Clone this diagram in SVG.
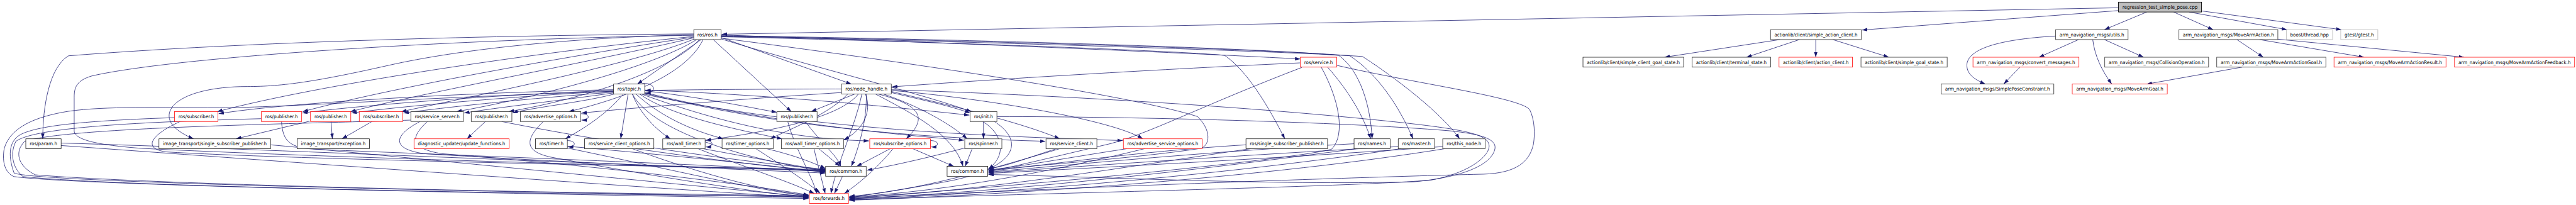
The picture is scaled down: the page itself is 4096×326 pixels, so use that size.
<svg xmlns="http://www.w3.org/2000/svg" width="4096" height="326" viewBox="0 0 4096 326">
<defs>
<style>
.node rect{fill:#fff;stroke:#404040;stroke-width:1.6}
.node.k rect{stroke:#000;stroke-width:1.3}
.node.r rect{stroke:#ff0000;stroke-width:1.4}
.node.g rect{stroke:#bfbfbf;stroke-width:1.6}
.node.root rect{fill:#bfbfbf;stroke:#000}
.node text{font-family:"DejaVu Sans","Liberation Sans",sans-serif;font-size:14px;text-anchor:middle;fill:#000}
#edges path{fill:none;stroke:#191970;stroke-width:1.4;marker-end:url(#a)}
</style>
<marker id="a" markerUnits="userSpaceOnUse" markerWidth="16" markerHeight="11" refX="15" refY="5" orient="auto"><path d="M0,0 L15,5 L0,10 z" fill="#191970"/></marker>
</defs>
<rect width="4096" height="326" fill="#fff"/>
<g transform="scale(0.56171)">
<g id="edges">
<path d="M5997,22 L2043,97"/>
<path d="M5997,30 L5271,85"/>
<path d="M6077,34 L5957,84"/>
<path d="M6153,34 L6265,84"/>
<path d="M6197,34 L6474,84"/>
<path d="M6232,31 L6628,84"/>
<path d="M5819,102 C5650,112 5575,140 5568,180 C5565,210 5590,225 5620,238"/>
<path d="M5884,112 L5772,162"/>
<path d="M5924,112 C5930,160 5950,200 5978,238"/>
<path d="M5957,112 L6068,162"/>
<path d="M5718,190 L5672,238"/>
<path d="M6332,112 L6407,162"/>
<path d="M6396,112 L6692,162"/>
<path d="M6448,111 L6975,162"/>
<path d="M6347,190 L6077,238"/>
<path d="M5039,112 L4712,162"/>
<path d="M5094,112 L4944,162"/>
<path d="M5140,112 L5140,162"/>
<path d="M5188,112 L5347,162"/>
<path d="M1964,96 C1400,100 700,118 194,158 C140,190 121,300 121,393"/>
<path d="M1964,100 C1300,110 500,160 260,215 C215,228 210,250 210,275 L210,370 C210,400 300,412 400,420 C900,445 1800,470 2337,482"/>
<path d="M1964,103 C1500,150 900,240 615,316"/>
<path d="M1964,105 C1600,160 1100,250 857,316"/>
<path d="M1964,107 C1700,170 1200,262 992,316"/>
<path d="M1966,110 C1800,180 1350,270 1136,316"/>
<path d="M1972,112 C1850,190 1500,280 1292,316"/>
<path d="M1980,112 C1900,200 1650,280 1440,316"/>
<path d="M1990,112 C1950,200 1800,270 1610,316"/>
<path d="M1964,98 C1600,108 1300,140 1100,185 C900,230 800,245 700,245 C600,245 520,265 490,300 C465,330 480,365 548,393"/>
<path d="M1985,112 L1804,238"/>
<path d="M2019,112 L2240,316"/>
<path d="M2041,106 L2410,238"/>
<path d="M2041,110 C2300,190 2600,262 2750,316"/>
<path d="M2041,99 C2800,125 3400,152 3681,167"/>
<path d="M2041,101 C2800,112 3600,138 3790,157 C3850,200 3880,300 3884,393"/>
<path d="M2041,102 C2800,115 3650,142 3821,158 C3900,210 3960,300 4000,393"/>
<path d="M2041,103 C2800,118 3700,148 3857,160 C3950,220 4080,320 4132,393"/>
<path d="M2041,104 C2800,122 3400,148 3467,157 C3530,200 3590,300 3637,393"/>
<path d="M2041,108 C2600,180 3200,270 3390,330 C3430,370 3425,410 3400,420 C3200,450 2900,470 2798,482"/>
<path d="M3681,178 C3300,195 2800,225 2525,246"/>
<path d="M3758,190 C3820,260 3860,330 3880,393"/>
<path d="M3784,185 C4000,235 4300,275 4330,310 C4345,340 4345,380 4341,407 C4330,460 4290,490 4200,493 C3900,500 3000,530 2404,563"/>
<path d="M3685,191 C3400,300 3250,380 3138,408 C3000,440 2900,465 2798,486"/>
<path d="M3740,190 C3790,280 3810,380 3770,422 C3700,445 3000,520 2404,560"/>
<path d="M1737,254 C1300,262 800,292 619,322"/>
<path d="M1737,256 C1400,268 1000,300 856,320"/>
<path d="M1737,258 C1450,272 1100,305 995,320"/>
<path d="M1737,261 C1500,278 1250,305 1142,320"/>
<path d="M1737,263 C1600,283 1400,305 1314,320"/>
<path d="M1740,266 C1650,290 1500,305 1451,320"/>
<path d="M1765,266 C1720,320 1660,360 1600,393"/>
<path d="M1778,266 L1757,393"/>
<path d="M1790,266 C1810,320 1860,370 1898,393"/>
<path d="M1800,266 C1870,330 1960,370 2048,393"/>
<path d="M1810,266 C1900,330 2100,370 2214,393"/>
<path d="M1825,257 C2000,278 2100,300 2199,318"/>
<path d="M1825,255 C2200,270 2500,300 2744,326"/>
<path d="M1825,262 C2100,330 2400,370 2729,397"/>
<path d="M1825,264 C2200,360 2600,390 2959,400"/>
<path d="M1820,266 C2300,370 2800,385 3178,398"/>
<path d="M1815,266 C2100,370 2300,395 2460,399"/>
<path d="M1790,266 C1850,380 2150,460 2337,484"/>
<path d="M1737,259 C1200,275 800,305 620,305 C450,305 300,300 194,315 C100,330 30,360 12,420 C5,460 15,490 40,500 C200,522 1200,545 2289,562"/>
<path d="M1812,238 C1850,228 1868,262 1827,264"/>
<path d="M2382,252 C2200,252 1950,254 1827,256"/>
<path d="M2382,262 C2100,280 1800,305 1646,320"/>
<path d="M2420,266 L2296,316"/>
<path d="M2430,266 C2380,330 2200,370 1998,397"/>
<path d="M2400,266 C2350,320 2250,360 2180,393"/>
<path d="M2450,266 C2470,320 2440,370 2388,396"/>
<path d="M2485,266 C2620,300 2620,340 2565,393"/>
<path d="M2500,266 C2600,300 2690,350 2738,393"/>
<path d="M2523,262 C2620,285 2690,300 2746,320"/>
<path d="M2523,259 C2700,300 2900,350 3000,393"/>
<path d="M2478,266 C2580,320 2700,380 2726,471"/>
<path d="M2452,266 C2455,340 2430,420 2410,471"/>
<path d="M2440,266 C2420,360 2370,460 2352,548"/>
<path d="M2523,256 C2800,280 3150,340 3235,393"/>
<path d="M2523,254 C3000,270 3500,300 3900,340 C4150,365 4210,380 4215,410 C4220,440 4160,490 4050,510 C3800,530 3000,545 2404,566"/>
<path d="M2822,330 C3200,330 3800,345 4100,370 C4200,380 4235,395 4232,420 C4225,460 4160,500 4000,515 C3600,525 3100,500 2798,494"/>
<path d="M2784,344 L2784,393"/>
<path d="M2782,344 C2840,380 2850,440 2798,478"/>
<path d="M2815,344 C2900,400 2880,470 2700,510 C2600,530 2450,552 2404,560"/>
<path d="M494,333 C300,340 120,350 60,380 C20,400 25,450 40,490 C100,515 1200,540 2289,558"/>
<path d="M740,336 C400,345 100,360 45,400 C25,440 40,480 65,500 C300,525 1300,548 2289,556"/>
<path d="M1163,340 C800,352 200,360 70,400 C40,430 50,470 100,495 C400,520 1400,545 2289,554"/>
<path d="M510,344 C430,380 400,420 470,430 C800,450 1800,470 2337,480"/>
<path d="M797,344 C800,400 820,420 900,423 C1300,440 2000,465 2337,486"/>
<path d="M877,343 L668,393"/>
<path d="M937,344 L941,393"/>
<path d="M1053,344 L968,393"/>
<path d="M1189,344 C1120,380 1100,420 1200,435 C1600,460 2100,480 2337,490"/>
<path d="M1210,344 C1160,390 1160,420 1250,435 C1700,470 2100,520 2289,552"/>
<path d="M1374,344 L1322,393"/>
<path d="M1420,344 C1700,400 2100,460 2337,479"/>
<path d="M1538,344 C1480,400 1490,430 1560,445 C1800,490 2100,540 2289,559"/>
<path d="M1644,322 C1672,322 1672,340 1646,340"/>
<path d="M2280,344 C2320,400 2370,440 2380,471"/>
<path d="M2230,344 C2250,420 2300,500 2312,548"/>
<path d="M173,405 C700,420 1800,470 2337,484"/>
<path d="M173,412 C700,450 1800,530 2289,560"/>
<path d="M766,410 C1200,450 1900,520 2289,557"/>
<path d="M1606,414 C1900,440 2200,470 2337,488"/>
<path d="M1606,419 C1900,480 2150,540 2289,555"/>
<path d="M1606,398 C1632,398 1632,416 1608,416"/>
<path d="M1800,421 C2000,450 2200,475 2337,486"/>
<path d="M1790,421 C1950,480 2150,540 2289,553"/>
<path d="M1990,421 C2150,450 2280,475 2337,482"/>
<path d="M1976,421 C2100,470 2250,520 2305,548"/>
<path d="M1996,398 C2022,398 2022,416 1998,416"/>
<path d="M2170,421 C2250,440 2300,460 2337,477"/>
<path d="M2140,421 C2200,460 2280,510 2322,548"/>
<path d="M2318,421 L2378,471"/>
<path d="M2304,421 L2336,548"/>
<path d="M2520,421 L2425,471"/>
<path d="M2528,421 C2480,480 2430,520 2390,548"/>
<path d="M2584,421 L2700,471"/>
<path d="M2634,398 C2660,398 2660,416 2636,416"/>
<path d="M2752,421 L2732,471"/>
<path d="M2731,419 C2650,440 2550,465 2454,482"/>
<path d="M2990,421 C2900,450 2850,470 2798,478"/>
<path d="M3000,421 C2800,480 2600,540 2404,556"/>
<path d="M3190,421 C3000,450 2900,470 2798,481"/>
<path d="M3240,421 C3000,480 2700,540 2404,558"/>
<path d="M3527,410 C3200,430 2950,470 2798,484"/>
<path d="M3540,421 C3200,470 2800,540 2404,561"/>
<path d="M3833,407 C3400,430 3000,470 2798,487"/>
<path d="M3840,421 C3400,480 2900,540 2404,563"/>
<path d="M3958,415 C3500,440 3000,475 2798,489"/>
<path d="M3965,421 C3500,490 2900,545 2404,565"/>
<path d="M4084,415 C3600,450 3000,480 2798,491"/>
<path d="M4090,421 C3600,500 2900,550 2404,567"/>
<path d="M2385,499 L2362,548"/>
</g>
<g id="n_root" class="node root"><rect x="5997" y="6" width="235" height="28"/><text x="6114.5" y="25" textLength="213" lengthAdjust="spacingAndGlyphs">regression_test_simple_pose.cpp</text></g>
<g id="n_ros" class="node"><rect x="1964" y="84" width="77" height="28"/><text x="2002.5" y="103" textLength="57" lengthAdjust="spacingAndGlyphs">ros/ros.h</text></g>
<g id="n_sac" class="node"><rect x="5012" y="84" width="257" height="28"/><text x="5140.5" y="103" textLength="235" lengthAdjust="spacingAndGlyphs">actionlib/client/simple_action_client.h</text></g>
<g id="n_utils" class="node"><rect x="5819" y="84" width="205" height="28"/><text x="5921.5" y="103" textLength="183" lengthAdjust="spacingAndGlyphs">arm_navigation_msgs/utils.h</text></g>
<g id="n_mva" class="node"><rect x="6168" y="84" width="280" height="28"/><text x="6308" y="103" textLength="258" lengthAdjust="spacingAndGlyphs">arm_navigation_msgs/MoveArmAction.h</text></g>
<g id="n_boost" class="node g"><rect x="6472" y="84" width="131" height="28"/><text x="6537.5" y="103" textLength="109" lengthAdjust="spacingAndGlyphs">boost/thread.hpp</text></g>
<g id="n_gtest" class="node g"><rect x="6626" y="84" width="105" height="28"/><text x="6678.5" y="103" textLength="83" lengthAdjust="spacingAndGlyphs">gtest/gtest.h</text></g>
<g id="n_service" class="node r"><rect x="3681" y="162" width="103" height="28"/><text x="3732.5" y="181" textLength="81" lengthAdjust="spacingAndGlyphs">ros/service.h</text></g>
<g id="n_scgs" class="node k"><rect x="4481" y="162" width="285" height="28"/><text x="4623.5" y="181" textLength="263" lengthAdjust="spacingAndGlyphs">actionlib/client/simple_client_goal_state.h</text></g>
<g id="n_ts" class="node k"><rect x="4790" y="162" width="222" height="28"/><text x="4901" y="181" textLength="200" lengthAdjust="spacingAndGlyphs">actionlib/client/terminal_state.h</text></g>
<g id="n_ac" class="node r"><rect x="5036" y="162" width="208" height="28"/><text x="5140" y="181" textLength="186" lengthAdjust="spacingAndGlyphs">actionlib/client/action_client.h</text></g>
<g id="n_sgs" class="node"><rect x="5268" y="162" width="244" height="28"/><text x="5390" y="181" textLength="222" lengthAdjust="spacingAndGlyphs">actionlib/client/simple_goal_state.h</text></g>
<g id="n_conv" class="node r"><rect x="5585" y="162" width="300" height="28"/><text x="5735" y="181" textLength="278" lengthAdjust="spacingAndGlyphs">arm_navigation_msgs/convert_messages.h</text></g>
<g id="n_coll" class="node"><rect x="5958" y="162" width="294" height="28"/><text x="6105" y="181" textLength="272" lengthAdjust="spacingAndGlyphs">arm_navigation_msgs/CollisionOperation.h</text></g>
<g id="n_mvag" class="node"><rect x="6275" y="162" width="309" height="28"/><text x="6429.5" y="181" textLength="287" lengthAdjust="spacingAndGlyphs">arm_navigation_msgs/MoveArmActionGoal.h</text></g>
<g id="n_mvar" class="node r"><rect x="6607" y="162" width="317" height="28"/><text x="6765.5" y="181" textLength="295" lengthAdjust="spacingAndGlyphs">arm_navigation_msgs/MoveArmActionResult.h</text></g>
<g id="n_mvaf" class="node r"><rect x="6948" y="162" width="340" height="28"/><text x="7118" y="181" textLength="318" lengthAdjust="spacingAndGlyphs">arm_navigation_msgs/MoveArmActionFeedback.h</text></g>
<g id="n_topic" class="node k"><rect x="1737" y="238" width="88" height="28"/><text x="1781" y="257" textLength="66" lengthAdjust="spacingAndGlyphs">ros/topic.h</text></g>
<g id="n_nh" class="node k"><rect x="2382" y="238" width="141" height="28"/><text x="2452.5" y="257" textLength="119" lengthAdjust="spacingAndGlyphs">ros/node_handle.h</text></g>
<g id="n_spc" class="node k"><rect x="5495" y="238" width="319" height="28"/><text x="5654.5" y="257" textLength="297" lengthAdjust="spacingAndGlyphs">arm_navigation_msgs/SimplePoseConstraint.h</text></g>
<g id="n_mag" class="node r"><rect x="5866" y="238" width="269" height="28"/><text x="6000.5" y="257" textLength="247" lengthAdjust="spacingAndGlyphs">arm_navigation_msgs/MoveArmGoal.h</text></g>
<g id="n_sub1" class="node r"><rect x="494" y="316" width="123" height="28"/><text x="555.5" y="335" textLength="101" lengthAdjust="spacingAndGlyphs">ros/subscriber.h</text></g>
<g id="n_pub1" class="node r"><rect x="740" y="316" width="114" height="28"/><text x="797" y="335" textLength="92" lengthAdjust="spacingAndGlyphs">ros/publisher.h</text></g>
<g id="n_pub2" class="node r"><rect x="879" y="316" width="114" height="28"/><text x="936" y="335" textLength="92" lengthAdjust="spacingAndGlyphs">ros/publisher.h</text></g>
<g id="n_sub2" class="node r"><rect x="1017" y="316" width="123" height="28"/><text x="1078.5" y="335" textLength="101" lengthAdjust="spacingAndGlyphs">ros/subscriber.h</text></g>
<g id="n_ss" class="node"><rect x="1163" y="316" width="149" height="28"/><text x="1237.5" y="335" textLength="127" lengthAdjust="spacingAndGlyphs">ros/service_server.h</text></g>
<g id="n_pub3" class="node"><rect x="1334" y="316" width="115" height="28"/><text x="1391.5" y="335" textLength="93" lengthAdjust="spacingAndGlyphs">ros/publisher.h</text></g>
<g id="n_ao" class="node"><rect x="1473" y="316" width="171" height="28"/><text x="1558.5" y="335" textLength="149" lengthAdjust="spacingAndGlyphs">ros/advertise_options.h</text></g>
<g id="n_pub4" class="node"><rect x="2199" y="316" width="114" height="28"/><text x="2256" y="335" textLength="92" lengthAdjust="spacingAndGlyphs">ros/publisher.h</text></g>
<g id="n_init" class="node"><rect x="2746" y="316" width="76" height="28"/><text x="2784" y="335" textLength="54" lengthAdjust="spacingAndGlyphs">ros/init.h</text></g>
<g id="n_param" class="node k"><rect x="73" y="393" width="100" height="28"/><text x="123" y="412" textLength="78" lengthAdjust="spacingAndGlyphs">ros/param.h</text></g>
<g id="n_itssp" class="node k"><rect x="450" y="393" width="316" height="28"/><text x="608" y="412" textLength="294" lengthAdjust="spacingAndGlyphs">image_transport/single_subscriber_publisher.h</text></g>
<g id="n_itex" class="node k"><rect x="841" y="393" width="205" height="28"/><text x="943.5" y="412" textLength="183" lengthAdjust="spacingAndGlyphs">image_transport/exception.h</text></g>
<g id="n_duf" class="node r"><rect x="1172" y="393" width="269" height="28"/><text x="1306.5" y="412" textLength="247" lengthAdjust="spacingAndGlyphs">diagnostic_updater/update_functions.h</text></g>
<g id="n_timer" class="node k"><rect x="1516" y="393" width="90" height="28"/><text x="1561" y="412" textLength="68" lengthAdjust="spacingAndGlyphs">ros/timer.h</text></g>
<g id="n_sco" class="node k"><rect x="1655" y="393" width="196" height="28"/><text x="1753" y="412" textLength="174" lengthAdjust="spacingAndGlyphs">ros/service_client_options.h</text></g>
<g id="n_wt" class="node"><rect x="1876" y="393" width="120" height="28"/><text x="1936" y="412" textLength="98" lengthAdjust="spacingAndGlyphs">ros/wall_timer.h</text></g>
<g id="n_to" class="node"><rect x="2044" y="393" width="145" height="28"/><text x="2116.5" y="412" textLength="123" lengthAdjust="spacingAndGlyphs">ros/timer_options.h</text></g>
<g id="n_wto" class="node"><rect x="2212" y="393" width="176" height="28"/><text x="2300" y="412" textLength="154" lengthAdjust="spacingAndGlyphs">ros/wall_timer_options.h</text></g>
<g id="n_so" class="node r"><rect x="2462" y="393" width="172" height="28"/><text x="2548" y="412" textLength="150" lengthAdjust="spacingAndGlyphs">ros/subscribe_options.h</text></g>
<g id="n_spin" class="node"><rect x="2731" y="393" width="105" height="28"/><text x="2783.5" y="412" textLength="83" lengthAdjust="spacingAndGlyphs">ros/spinner.h</text></g>
<g id="n_sc" class="node"><rect x="2961" y="393" width="144" height="28"/><text x="3033" y="412" textLength="122" lengthAdjust="spacingAndGlyphs">ros/service_client.h</text></g>
<g id="n_aso" class="node r"><rect x="3180" y="393" width="223" height="28"/><text x="3291.5" y="412" textLength="201" lengthAdjust="spacingAndGlyphs">ros/advertise_service_options.h</text></g>
<g id="n_rssp" class="node k"><rect x="3527" y="393" width="231" height="28"/><text x="3642.5" y="412" textLength="209" lengthAdjust="spacingAndGlyphs">ros/single_subscriber_publisher.h</text></g>
<g id="n_names" class="node k"><rect x="3833" y="393" width="102" height="28"/><text x="3884" y="412" textLength="80" lengthAdjust="spacingAndGlyphs">ros/names.h</text></g>
<g id="n_master" class="node k"><rect x="3958" y="393" width="103" height="28"/><text x="4009.5" y="412" textLength="81" lengthAdjust="spacingAndGlyphs">ros/master.h</text></g>
<g id="n_thisnode" class="node"><rect x="4084" y="393" width="120" height="28"/><text x="4144" y="412" textLength="98" lengthAdjust="spacingAndGlyphs">ros/this_node.h</text></g>
<g id="n_common1" class="node"><rect x="2337" y="471" width="115" height="28"/><text x="2394.5" y="490" textLength="93" lengthAdjust="spacingAndGlyphs">ros/common.h</text></g>
<g id="n_common2" class="node k"><rect x="2681" y="471" width="115" height="28"/><text x="2738.5" y="490" textLength="93" lengthAdjust="spacingAndGlyphs">ros/common.h</text></g>
<g id="n_fwd" class="node r"><rect x="2291" y="548" width="111" height="28"/><text x="2346.5" y="567" textLength="89" lengthAdjust="spacingAndGlyphs">ros/forwards.h</text></g>
</g>
</svg>
